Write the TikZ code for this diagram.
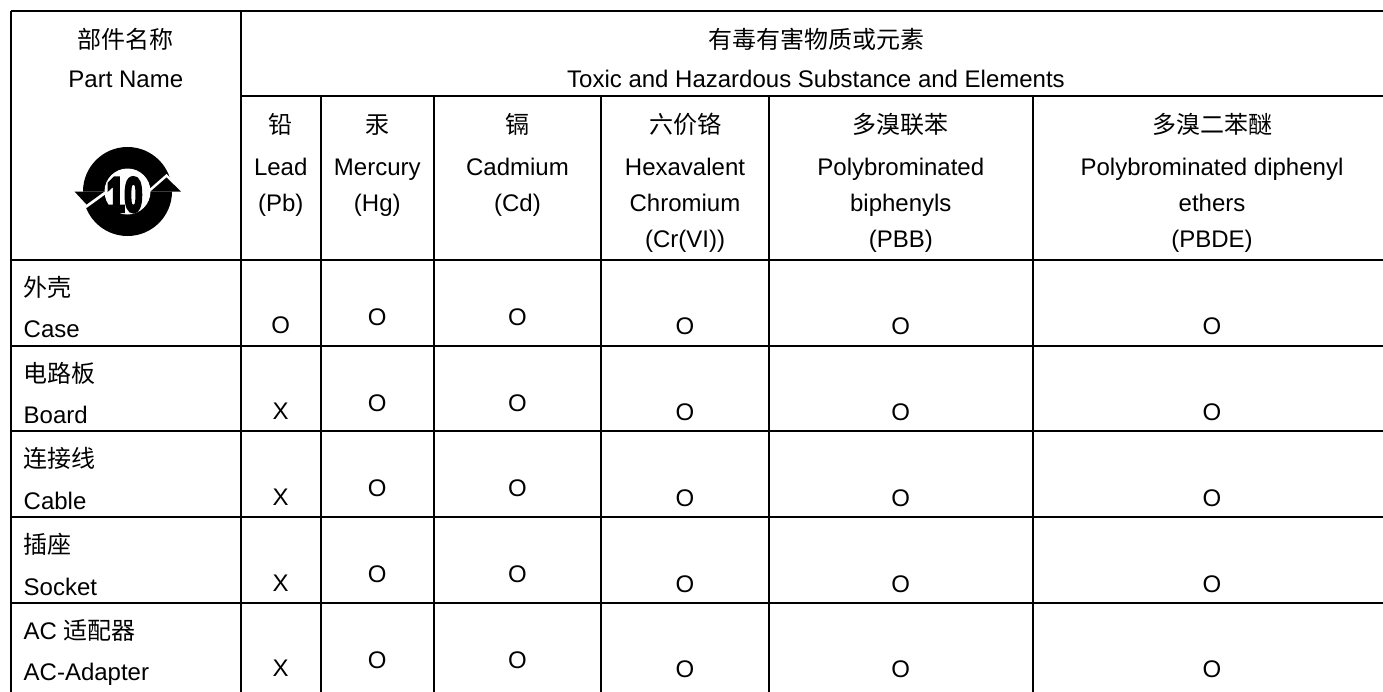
\documentclass[tikz,border=0pt]{standalone}
\usepackage{fontspec}
\setmainfont{Liberation Sans}
\newfontfamily\cjk{Noto Sans CJK SC}
\newfontfamily\tenfont[FakeBold=7.5]{Liberation Sans Bold}
\begin{document}
\begin{tikzpicture}[x=1pt,y=-1pt,
  txt/.style={inner sep=0pt, anchor=base, font=\fontsize{24}{24}\selectfont},
  lft/.style={txt, anchor=base west},
  rule/.style={line width=2pt, black},
  logoink/.style={fill=black},
  notch/.style={fill=white}]
\useasboundingbox (0,0) rectangle (1383,691);
\fill[white] (0,0) rectangle (1383,691);

% grid
\draw[rule] (11,11) -- (1400,11);
\draw[rule] (240.7,95.8) -- (1400,95.8);
\foreach \y in {259.7,345.5,431,517,602.7} \draw[rule] (11,\y) -- (1400,\y);
\draw[rule] (11,11) -- (11,700);
\draw[rule] (240.7,11) -- (240.7,700);
\foreach \x in {320.7,434,601,769,1032.7} \draw[rule] (\x,95.8) -- (\x,700);

% header texts
\node[txt] (pnc) at (125.8,48) {\cjk 部件名称};
\node[txt] (pne) at (125.8,87.3) {Part Name};
\node[txt] (thc) at (816,48) {\cjk 有毒有害物质或元素};
\node[txt] (the) at (816,87.3) {Toxic and Hazardous Substance and Elements};

\node[txt] (pbc) at (280.7,133.5) {\cjk 铅};
\node[txt] (pb1) at (280.7,175) {Lead};
\node[txt] (pb2) at (280.7,211.3) {(Pb)};
\node[txt] (hgc) at (377.3,133.5) {\cjk 汞};
\node[txt] (hg1) at (377.3,175) {Mercury};
\node[txt] (hg2) at (377.3,211.3) {(Hg)};
\node[txt] (cdc) at (517.5,133.5) {\cjk 镉};
\node[txt] (cd1) at (517.5,175) {Cadmium};
\node[txt] (cd2) at (517.5,211.3) {(Cd)};
\node[txt] (crc) at (685,133.5) {\cjk 六价铬};
\node[txt] (cr1) at (685,175) {Hexavalent};
\node[txt] (cr2) at (685,211.3) {Chromium};
\node[txt] (cr3) at (685,247.5) {(Cr(VI))};
\node[txt] (bbc) at (900.8,133.5) {\cjk 多溴联苯};
\node[txt] (bb1) at (900.8,175) {Polybrominated};
\node[txt] (bb2) at (900.8,211.3) {biphenyls};
\node[txt] (bb3) at (900.8,247.5) {(PBB)};
\node[txt] (dec) at (1212,133.5) {\cjk 多溴二苯醚};
\node[txt] (de1) at (1212,175) {Polybrominated diphenyl};
\node[txt] (de2) at (1212,211.3) {ethers};
\node[txt] (de3) at (1212,247.5) {(PBDE)};

% logo
\coordinate (lc) at (127.5,191.5);
\fill[logoink] (lc) circle[radius=44.5pt];
\fill[notch] (lc) circle[radius=23pt];
\fill[notch] (71.3,191.5) -- (109.3,191.5) -- (86.5,208) -- cycle;
\fill[notch] (146.5,191.5) -- (184.6,191.5) -- (166.5,174) -- cycle;
\fill[logoink] (74.5,191.5) -- (104.5,191.5) -- (86.5,204.5) -- cycle;
\fill[logoink] (150.5,191.5) -- (181,191.5) -- (166.5,177.5) -- cycle;
\node[inner sep=0pt, anchor=base, xscale=0.67, font=\tenfont\fontsize{48}{48}\selectfont] (ten) at (124.5,211.3) {10};

% row labels
\node[lft] (r1c) at (23.5,296.5) {\cjk 外壳};
\node[lft] (r1e) at (23.5,337.9) {Case};
\node[lft] (r2c) at (23.5,382.3) {\cjk 电路板};
\node[lft] (r2e) at (23.5,423.7) {Board};
\node[lft] (r3c) at (23.5,467.8) {\cjk 连接线};
\node[lft] (r3e) at (23.5,509.2) {Cable};
\node[lft] (r4c) at (23.5,553.8) {\cjk 插座};
\node[lft] (r4e) at (23.5,595.2) {Socket};
\node[lft] (r5c) at (23.5,639.5) {AC {\cjk 适配器}};
\node[lft] (r5e) at (23.5,680.9) {AC-Adapter};

% marks
\foreach \r/\m [count=\i] in {259.7/O,345.5/X,431/X,517/X,602.7/X} {
  \node[txt] (ma\i) at (280.7,\r+74) {\m};
  \node[txt] (mb\i) at (377.3,\r+65.5) {O};
  \node[txt] (mc\i) at (517.5,\r+65.5) {O};
  \node[txt] (md\i) at (685,\r+75) {O};
  \node[txt] (me\i) at (900.8,\r+75) {O};
  \node[txt] (mf\i) at (1212,\r+75) {O};
}
\end{tikzpicture}
\end{document}
